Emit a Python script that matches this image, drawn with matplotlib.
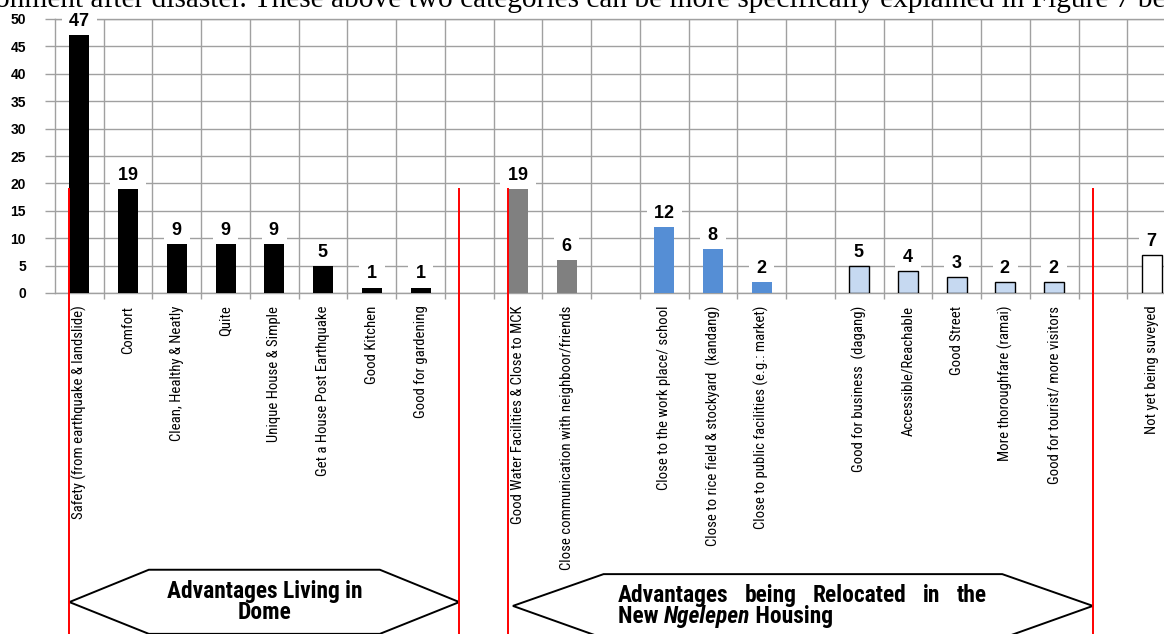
import matplotlib
matplotlib.use("Agg")
import matplotlib.pyplot as plt
from matplotlib import font_manager as fm
from matplotlib.patches import Polygon
import numpy as np

plt.rcParams["font.family"] = ["Liberation Sans", "DejaVu Sans"]

# narrow sans for the category texts: use a real narrow face when one exists
NARROW, STRETCH = "Liberation Sans", "normal"
_names = {f.name for f in fm.fontManager.ttflist}
for _n in ("Liberation Sans Narrow", "Arial Narrow", "Roboto Condensed", "Open Sans Condensed"):
    if _n in _names:
        NARROW = _n
        break
else:
    for _n in ("DejaVu Sans", "Noto Sans", "Open Sans", "Roboto"):
        if any(f.name == _n and f.stretch in ("condensed", "semi-condensed")
               for f in fm.fontManager.ttflist):
            NARROW, STRETCH = _n, "condensed"
            break
NFONT = dict(fontfamily=[NARROW, "DejaVu Sans"], fontstretch=STRETCH)

# ---- survey answers (empty label / None = spacer column between groups) ----
labels = [
    "Safety (from earthquake & landslide)", "Comfort", "Clean, Healthy & Neatly",
    "Quite", "Unique House & Simple", "Get a House Post Earthquake", "Good Kitchen",
    "Good for gardening", "",
    "Good Water Facilities & Close to MCK", "Close communication with neighboor/friends", "",
    "Close to the work place/ school", "Close to rice field & stockyard  (kandang)",
    "Close to public facilities (e.g.: market)", "",
    "Good for business  (dagang)", "Accessible/Reachable", "Good Street",
    "More thoroughfare (ramai)", "Good for tourist/ more visitors", "",
    "Not yet being suveyed",
]
counts = [47, 19, 9, 9, 9, 5, 1, 1, None, 19, 6, None, 12, 8, 2, None,
          5, 4, 3, 2, 2, None, 7]
kinds = (["dome"] * 8 + [None] + ["social"] * 2 + [None] + ["near"] * 3 + [None]
         + ["trade"] * 5 + [None] + ["none"])

STYLE = {  # face, edge
    "dome": ("#000000", "none"),
    "social": ("#808080", "none"),
    "near": ("#558ED5", "none"),
    "trade": ("#C6D9F1", "#000000"),
    "none": ("#FFFFFF", "#000000"),
}
GRID = "#A0A0A0"
BAR_W = 0.41

fig = plt.figure(figsize=(11.64, 6.34), dpi=100)
ax = fig.add_axes([55 / 1164, 341 / 634, 1121 / 1164, 274 / 634])
ax.set_xlim(-0.5, len(labels) - 0.5)
ax.set_ylim(0, 50)

for i, (v, k) in enumerate(zip(counts, kinds)):
    if v is None:
        continue
    fc, ec = STYLE[k]
    ax.bar(i, v, width=BAR_W, color=fc, edgecolor=ec, linewidth=1.0, zorder=3)
    ax.annotate(f" {v} ", (i, v), xytext=(0, 6.5), textcoords="offset points",
                ha="center", va="baseline", fontsize=13, fontweight="bold",
                bbox=dict(fc="white", ec="none", pad=2), zorder=4)

# axes, grid and ticks
ax.set_xticks(range(len(labels)))
ax.set_xticklabels(labels, rotation=90, fontsize=11.5, **NFONT)
ax.set_xticks(np.arange(0.5, len(labels) - 0.5, 1), minor=True)
ax.tick_params(axis="x", which="major", length=0, pad=9)
ax.tick_params(axis="x", which="minor", length=4, width=1, color=GRID)
ax.set_yticks(range(0, 51, 5))
ax.tick_params(axis="y", length=7, width=1, color=GRID, pad=14, labelsize=10)
for t in ax.get_yticklabels():
    t.set_fontweight("bold")
ax.grid(which="minor", axis="x", color=GRID, lw=1, zorder=0)
ax.grid(which="major", axis="y", color=GRID, lw=1, zorder=0)
ax.set_axisbelow(True)
for s in ("left", "bottom", "top"):
    ax.spines[s].set_color(GRID)
    ax.spines[s].set_linewidth(1)
ax.spines["right"].set_visible(False)

# group brackets: red dividers and the hexagon captions below the labels
dome = (0, 7)
moved = (9, 20)
edges = [dome[0] - BAR_W / 2, dome[1] + 1 - BAR_W / 2,
         moved[0] - BAR_W / 2, moved[1] + 1 - BAR_W / 2]
ax.vlines(edges, -70, 19.2, colors="red", lw=1.4, clip_on=False, zorder=5)


def hexagon(x0, x1, ytop, ymid, ybot, indent):
    pts = [(x0, ymid), (x0 + indent, ytop), (x1 - indent, ytop),
           (x1, ymid), (x1 - indent, ybot), (x0 + indent, ybot)]
    ax.add_patch(Polygon(pts, closed=True, fc="white", ec="black", lw=1.4,
                         clip_on=False, zorder=4))


CAP = dict(fontsize=17, fontweight="bold", zorder=6, **NFONT)

hexagon(edges[0], edges[1], -50.5, -56.4, -62.2, 1.63)
cap1 = ax.text((edges[0] + edges[1]) / 2, -56.4, "Advantages Living in\nDome",
               ha="center", va="center", linespacing=0.85, **CAP)

hexagon(edges[2] + 0.1, edges[3], -51.3, -57.1, -63.0, 1.86)
words = "Advantages being Relocated in the".split()
jx0, jx1, base1, base2 = 11.05, 18.62, -56.3, -60.3
wt = [ax.text(jx0, base1, w, ha="left", va="baseline", **CAP) for w in words]
t1 = ax.text(jx0, base2, "New ", ha="left", va="baseline", **CAP)
t2 = ax.annotate("Ngelepen", xy=(1, 0), xycoords=t1, va="bottom",
                 fontstyle="italic", **CAP)
t3 = ax.annotate(" Housing", xy=(1, 0), xycoords=t2, va="bottom", **CAP)

# size the narrow texts to the lengths they take on the page
fig.canvas.draw()
r = fig.canvas.get_renderer()
tick0 = ax.get_xticklabels()[0]
k_tick = 213 / tick0.get_window_extent(r).height
for t in ax.get_xticklabels():
    t.set_fontsize(t.get_fontsize() * k_tick)
probe = ax.text(0, 0, "Advantages Living in", **CAP)
k_cap = 197 / probe.get_window_extent(r).width
probe.remove()
for t in [cap1, *wt, t1, t2, t3]:
    t.set_fontsize(t.get_fontsize() * k_cap)

# justify the first line of the second caption
fig.canvas.draw()
px_per_unit = ax.transData.transform((1, 0))[0] - ax.transData.transform((0, 0))[0]
widths = [t.get_window_extent(r).width / px_per_unit for t in wt]
gap = (jx1 - jx0 - sum(widths)) / (len(words) - 1)
x = jx0
for t, w in zip(wt, widths):
    t.set_x(x)
    x += w + gap

# running text of the page above the chart
fig.text(-0.004, 1 - 7 / 634,
         "onment after disaster. These above two categories can be more "
         "specifically explained in Figure 7 be",
         fontfamily=["Liberation Serif", "DejaVu Serif"], fontsize=21.2,
         va="baseline", ha="left")

fig.savefig("out.png", dpi=100)
